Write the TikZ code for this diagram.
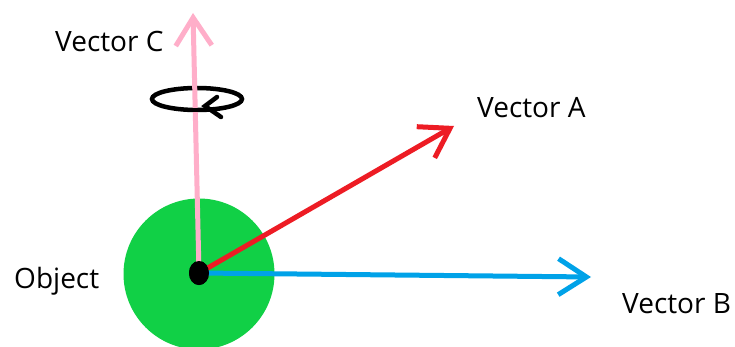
\documentclass[tikz,border=0pt]{standalone}
\usepackage{fontspec}
\setmainfont{Open Sans}
\usetikzlibrary{arrows.meta,shapes.geometric}
\definecolor{objgreen}{RGB}{17,208,70}
\definecolor{vecpink}{RGB}{255,174,201}
\definecolor{vecred}{RGB}{237,28,36}
\definecolor{vecblue}{RGB}{0,162,232}
\tikzset{
  vec/.style={line width=5pt, line cap=round, -{Straight Barb[length=28pt,width=36pt,line width=5pt]}},
  lbl/.style={anchor=base west, inner sep=0pt, font=\fontsize{28}{32}\selectfont},
  dot/.style={ellipse, fill=black, minimum width=20pt, minimum height=24pt, inner sep=0pt},
}
\begin{document}
\begin{tikzpicture}[x=1pt,y=-1pt]
\useasboundingbox (0,0) rectangle (735,347);
\clip (0,0) rectangle (735,347);
\fill[white] (0,0) rectangle (735,347);
% object
\node[circle, fill=objgreen, minimum size=151pt, inner sep=0pt] (obj) at (199,274) {};
% rotation ellipse (back part)
\draw[line width=4.5pt] (197,99) ellipse [x radius=45, y radius=11];
% vector tips
\coordinate (ctip) at (193,13);
\coordinate (atip) at (454,126);
\coordinate (btip) at (591,277);
\node[dot] (o) at (199,273) {};
\draw[vec, vecpink] (o.center) -- (ctip);
% front of rotation ellipse with arrow
\draw[line width=4.5pt, line cap=round] (190,110) -- (206,110);
\draw[line width=4.5pt, line cap=round] (217,97) -- (205,106) -- (221,117);
\draw[vec, vecred] (o.center) -- (atip);
\draw[vec, vecblue] (o.center) -- (btip);
\node[dot] (o2) at (199,273) {};
% labels
\node[lbl] (lc) at (55,52) {Vector C};
\node[lbl] (la) at (477,118) {Vector A};
\node[lbl] (lb) at (622,313) {Vector B};
\node[lbl] (lo) at (14,288) {Object};
\end{tikzpicture}
\end{document}
